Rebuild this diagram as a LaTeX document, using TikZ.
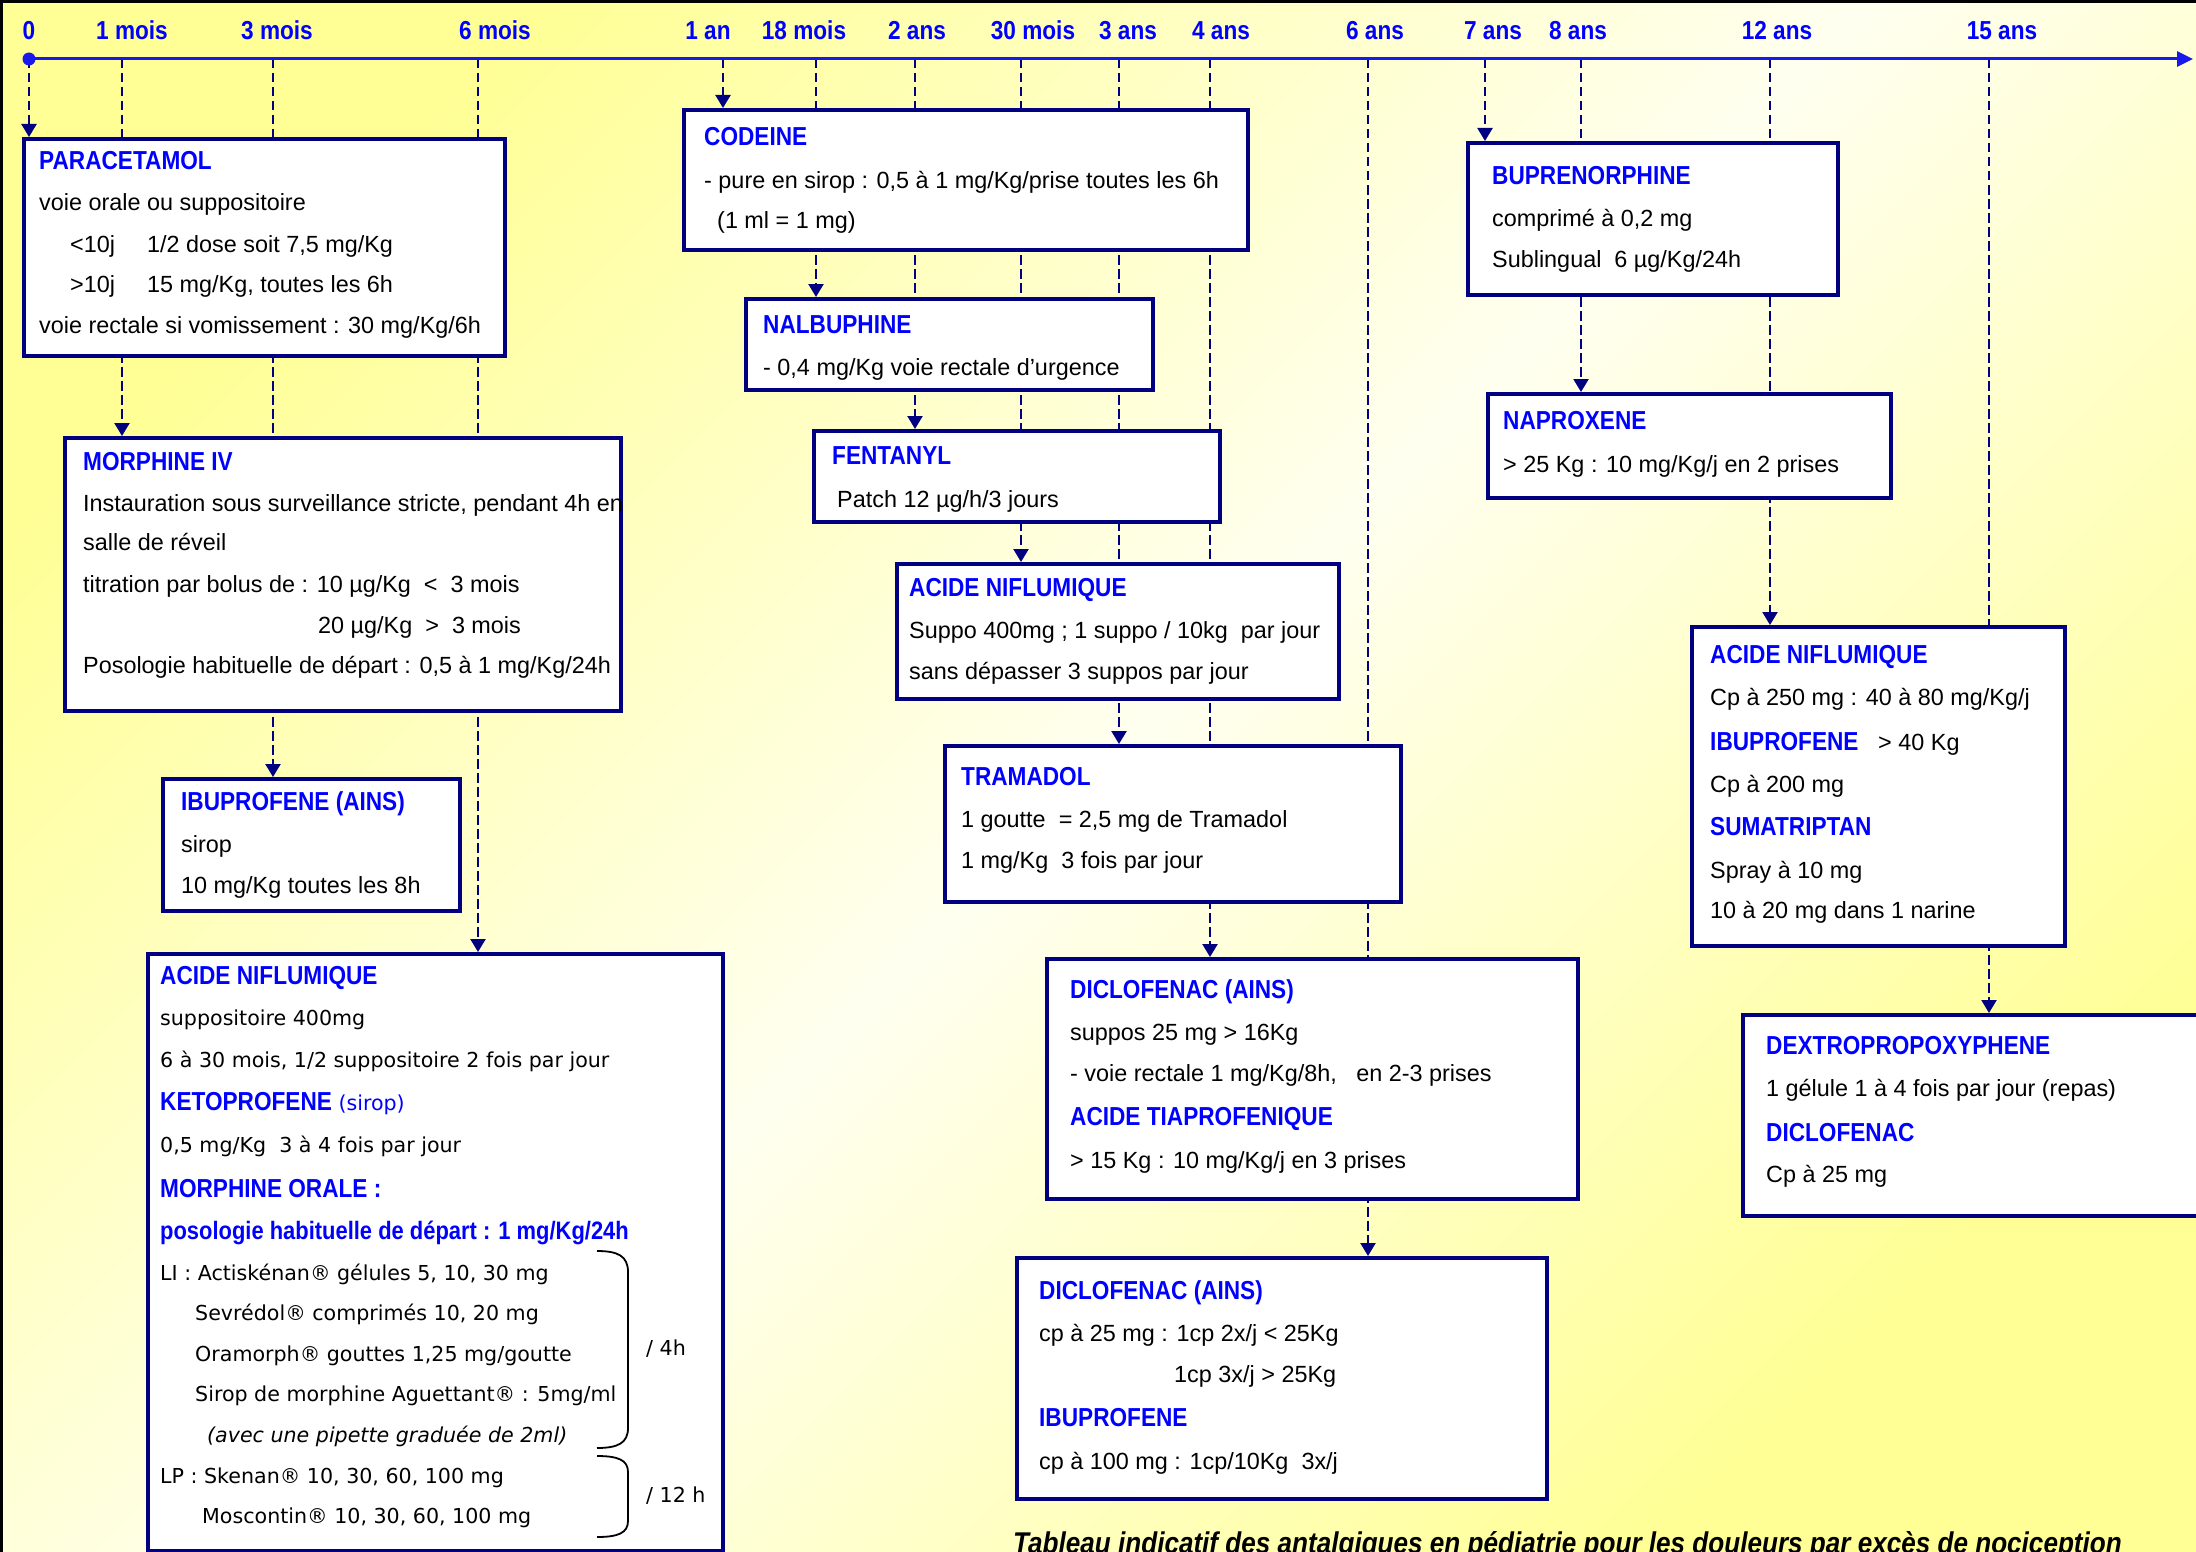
\documentclass[tikz,border=0pt]{standalone}
\usepackage{fontspec}
\setmainfont{Liberation Sans}
\newfontfamily\ttlfont[FakeStretch=0.87]{Liberation Sans}
\newfontfamily\verfont{DejaVu Sans}
\newfontfamily\capfont[FakeStretch=0.87]{Liberation Sans}
\usetikzlibrary{arrows.meta}
\definecolor{navyb}{RGB}{0,0,128}
\definecolor{titleb}{RGB}{0,0,255}
\definecolor{lineb}{RGB}{25,25,235}
\definecolor{bgyel}{RGB}{255,255,150}
\definecolor{bgwh}{RGB}{255,255,240}
\pgfdeclarelayer{back}
\pgfdeclarelayer{conn}
\pgfsetlayers{back,conn,main}
\tikzset{
  box/.style={draw=navyb, line width=4pt, fill=white, inner sep=0pt, anchor=north west},
  ttl/.style={font=\ttlfont\bfseries\fontsize{26}{30}\selectfont, text=titleb, anchor=base west, inner sep=0pt},
  txt/.style={font=\fontsize{23.4}{28}\selectfont, text=black, anchor=base west, inner sep=0pt},
  vtxt/.style={font=\verfont\fontsize{20.6}{25}\selectfont, text=black, anchor=base west, inner sep=0pt},
  ticklab/.style={font=\ttlfont\bfseries\fontsize{26}{30}\selectfont, text=titleb, anchor=base, inner sep=0pt},
  dep/.style={draw=navyb, line width=2.3pt, dash pattern=on 9.5pt off 4.5pt, -{Triangle[length=13pt,width=15pt]}},
  tl/.style={draw=lineb, line width=3pt, -{Triangle[length=16pt,width=15pt]}},
  brc/.style={draw=black, line width=1.8pt},
  capt/.style={font=\capfont\bfseries\itshape\fontsize{30}{34}\selectfont, text=black, anchor=base west, inner sep=0pt}
}
\begin{document}
\begin{tikzpicture}[x=1pt,y=-1pt]
\useasboundingbox (0,0) rectangle (2196,1552);
\begin{pgfonlayer}{back}
  \shade[top color=bgyel, bottom color=bgyel, middle color=bgwh, shading angle=45] (0,0) rectangle (2196,1552);
  \draw[black, line width=3pt] (1.5,1552) -- (1.5,1.5) -- (2196,1.5);
\end{pgfonlayer}

% timeline
\coordinate (t0) at (29,59);
\coordinate (t1) at (122,59);
\coordinate (t3) at (273,59);
\coordinate (t6) at (478,59);
\coordinate (t12) at (723,59);
\coordinate (t18) at (816,59);
\coordinate (t24) at (915,59);
\coordinate (t30) at (1021,59);
\coordinate (t36) at (1119,59);
\coordinate (t48) at (1210,59);
\coordinate (t72) at (1368,59);
\coordinate (t84) at (1485,59);
\coordinate (t96) at (1581,59);
\coordinate (t144) at (1770,59);
\coordinate (t180) at (1989,59);
\coordinate (tend) at (2193,59);
\draw[tl] (t0) -- (tend);
\fill[lineb] (t0) circle (6.5pt);

\node[ticklab] (l0) at (29,40) {0};
\node[ticklab] (l1) at (132,40) {1 mois};
\node[ticklab] (l3) at (277,40) {3 mois};
\node[ticklab] (l6) at (495,40) {6 mois};
\node[ticklab] (l12) at (708,40) {1 an};
\node[ticklab] (l18) at (804,40) {18 mois};
\node[ticklab] (l24) at (917,40) {2 ans};
\node[ticklab] (l30) at (1033,40) {30 mois};
\node[ticklab] (l36) at (1128,40) {3 ans};
\node[ticklab] (l48) at (1221,40) {4 ans};
\node[ticklab] (l72) at (1375,40) {6 ans};
\node[ticklab] (l84) at (1493,40) {7 ans};
\node[ticklab] (l96) at (1578,40) {8 ans};
\node[ticklab] (l144) at (1777,40) {12 ans};
\node[ticklab] (l180) at (2002,40) {15 ans};

% boxes
\node[box, minimum width=481pt, minimum height=217pt] (para) at (22,137) {};
\node[box, minimum width=556pt, minimum height=273pt] (morph) at (63,436) {};
\node[box, minimum width=297pt, minimum height=132pt] (ibu) at (161,777) {};
\node[box, minimum width=575pt, minimum height=597pt] (acnl) at (146,952) {};
\node[box, minimum width=564pt, minimum height=140pt] (cod) at (682,108) {};
\node[box, minimum width=407pt, minimum height=91pt] (nal) at (744,297) {};
\node[box, minimum width=406pt, minimum height=91pt] (fen) at (812,429) {};
\node[box, minimum width=442pt, minimum height=135pt] (acnc) at (895,562) {};
\node[box, minimum width=456pt, minimum height=156pt] (tram) at (943,744) {};
\node[box, minimum width=531pt, minimum height=240pt] (dic1) at (1045,957) {};
\node[box, minimum width=530pt, minimum height=241pt] (dic2) at (1015,1256) {};
\node[box, minimum width=370pt, minimum height=152pt] (bup) at (1466,141) {};
\node[box, minimum width=403pt, minimum height=104pt] (nap) at (1486,392) {};
\node[box, minimum width=373pt, minimum height=319pt] (acnr) at (1690,625) {};
\begin{scope}
  \clip (0,0) rectangle (2196,1552);
  \node[box, minimum width=480pt, minimum height=201pt] (dex) at (1741,1013) {};
  \node[capt] (cap) at (1013,1553) {Tableau indicatif des antalgiques en pédiatrie pour les douleurs par excès de nociception};
\end{scope}

% connectors
\begin{pgfonlayer}{conn}
  \draw[dep] (t0) -- (t0 |- para.north);
  \draw[dep] (t1) -- (t1 |- morph.north);
  \draw[dep] (t3) -- (t3 |- ibu.north);
  \draw[dep] (t6) -- (t6 |- acnl.north);
  \draw[dep] (t12) -- (t12 |- cod.north);
  \draw[dep] (t18) -- (t18 |- nal.north);
  \draw[dep] (t24) -- (t24 |- fen.north);
  \draw[dep] (t30) -- (t30 |- acnc.north);
  \draw[dep] (t36) -- (t36 |- tram.north);
  \draw[dep] (t48) -- (t48 |- dic1.north);
  \draw[dep] (t72) -- (t72 |- dic2.north);
  \draw[dep] (t84) -- (t84 |- bup.north);
  \draw[dep] (t96) -- (t96 |- nap.north);
  \draw[dep] (t144) -- (t144 |- acnr.north);
  \draw[dep] (t180) -- (t180 |- dex.north);
\end{pgfonlayer}

% PARACETAMOL
\node[ttl] (para-h) at (39,169) {PARACETAMOL};
\node[txt] (para-1) at (39,211) {voie orale ou suppositoire};
\node[txt] (para-2) at (70,252) {\makebox[77pt][l]{<10j}1/2 dose soit 7,5 mg/Kg};
\node[txt] (para-3) at (70,292) {\makebox[77pt][l]{>10j}15 mg/Kg, toutes les 6h};
\node[txt] (para-4) at (39,333) {voie rectale si vomissement : 30 mg/Kg/6h};

% MORPHINE IV
\node[ttl] (morph-h) at (83,470) {MORPHINE IV};
\node[txt] (morph-1) at (83,511) {Instauration sous surveillance stricte, pendant 4h en};
\node[txt] (morph-2) at (83,550) {salle de réveil};
\node[txt] (morph-3) at (83,592) {titration par bolus de : 10 µg/Kg\ \ <\ \ 3 mois};
\node[txt] (morph-4) at (318,633) {20 µg/Kg\ \ >\ \ 3 mois};
\node[txt] (morph-5) at (83,673) {Posologie habituelle de départ : 0,5 à 1 mg/Kg/24h};

% IBUPROFENE (AINS)
\node[ttl] (ibu-h) at (181,810) {IBUPROFENE (AINS)};
\node[txt] (ibu-1) at (181,852) {sirop};
\node[txt] (ibu-2) at (181,893) {10 mg/Kg toutes les 8h};

% ACIDE NIFLUMIQUE (left)
\node[ttl] (acnl-h) at (160,984) {ACIDE NIFLUMIQUE};
\node[vtxt] (acnl-1) at (160,1025) {suppositoire 400mg};
\node[vtxt] (acnl-2) at (160,1067) {6 à 30 mois, 1/2 suppositoire 2 fois par jour};
\node[vtxt, text=titleb] (acnl-3) at (160,1110) {{\ttlfont\bfseries\fontsize{26}{30}\selectfont KETOPROFENE} (sirop)};
\node[vtxt] (acnl-4) at (160,1152) {0,5 mg/Kg\ \ 3 à 4 fois par jour};
\node[ttl] (acnl-5) at (160,1197) {MORPHINE ORALE :};
\node[ttl, font=\ttlfont\bfseries\fontsize{25.2}{30}\selectfont] (acnl-6) at (160,1239) {posologie habituelle de départ : 1 mg/Kg/24h};
\node[vtxt] (acnl-7) at (160,1280) {LI : Actiskénan® gélules 5, 10, 30 mg};
\node[vtxt] (acnl-8) at (195,1320) {Sevrédol® comprimés 10, 20 mg};
\node[vtxt] (acnl-9) at (195,1361) {Oramorph® gouttes 1,25 mg/goutte};
\node[vtxt] (acnl-10) at (195,1401) {Sirop de morphine Aguettant® : 5mg/ml};
\node[vtxt, font=\verfont\itshape\fontsize{20.6}{25}\selectfont] (acnl-11) at (207,1442) {(avec une pipette graduée de 2ml)};
\node[vtxt] (acnl-12) at (160,1483) {LP : Skenan® 10, 30, 60, 100 mg};
\node[vtxt] (acnl-13) at (202,1523) {Moscontin® 10, 30, 60, 100 mg};
\draw[brc] (597,1251) .. controls (618,1251) and (628,1256) .. (628,1272) -- (628,1428) .. controls (628,1443) and (618,1448) .. (597,1448);
\draw[brc] (597,1456) .. controls (618,1456) and (628,1460) .. (628,1472) -- (628,1521) .. controls (628,1533) and (618,1537) .. (597,1537);
\node[vtxt] (per4) at (646,1355) {/ 4h};
\node[vtxt] (per12) at (646,1502) {/ 12 h};

% CODEINE
\node[ttl] (cod-h) at (704,146) {CODEINE};
\node[txt] (cod-1) at (704,189) {- pure en sirop : 0,5 à 1 mg/Kg/prise toutes les 6h};
\node[txt] (cod-2) at (717,228) {(1 ml = 1 mg)};

% NALBUPHINE
\node[ttl] (nal-h) at (763,333) {NALBUPHINE};
\node[txt] (nal-1) at (763,375) {- 0,4 mg/Kg voie rectale d’urgence};

% FENTANYL
\node[ttl] (fen-h) at (832,464) {FENTANYL};
\node[txt] (fen-1) at (837,507) {Patch 12 µg/h/3 jours};

% ACIDE NIFLUMIQUE (centre)
\node[ttl] (acnc-h) at (909,596) {ACIDE NIFLUMIQUE};
\node[txt] (acnc-1) at (909,638) {Suppo 400mg ; 1 suppo / 10kg\ \ par jour};
\node[txt] (acnc-2) at (909,679) {sans dépasser 3 suppos par jour};

% TRAMADOL
\node[ttl] (tram-h) at (961,785) {TRAMADOL};
\node[txt] (tram-1) at (961,827) {1 goutte\ \ = 2,5 mg de Tramadol};
\node[txt] (tram-2) at (961,868) {1 mg/Kg\ \ 3 fois par jour};

% DICLOFENAC 1
\node[ttl] (dic1-h) at (1070,998) {DICLOFENAC (AINS)};
\node[txt] (dic1-1) at (1070,1040) {suppos 25 mg > 16Kg};
\node[txt] (dic1-2) at (1070,1081) {- voie rectale 1 mg/Kg/8h,\ \ \ en 2-3 prises};
\node[ttl] (dic1-3) at (1070,1125) {ACIDE TIAPROFENIQUE};
\node[txt] (dic1-4) at (1070,1168) {> 15 Kg : 10 mg/Kg/j en 3 prises};

% DICLOFENAC 2
\node[ttl] (dic2-h) at (1039,1299) {DICLOFENAC (AINS)};
\node[txt] (dic2-1) at (1039,1341) {cp à 25 mg : 1cp 2x/j < 25Kg};
\node[txt] (dic2-2) at (1174,1382) {1cp 3x/j > 25Kg};
\node[ttl] (dic2-3) at (1039,1426) {IBUPROFENE};
\node[txt] (dic2-4) at (1039,1469) {cp à 100 mg : 1cp/10Kg\ \ 3x/j};

% BUPRENORPHINE
\node[ttl] (bup-h) at (1492,184) {BUPRENORPHINE};
\node[txt] (bup-1) at (1492,226) {comprimé à 0,2 mg};
\node[txt] (bup-2) at (1492,267) {Sublingual\ \ 6 µg/Kg/24h};

% NAPROXENE
\node[ttl] (nap-h) at (1503,429) {NAPROXENE};
\node[txt] (nap-1) at (1503,472) {> 25 Kg : 10 mg/Kg/j en 2 prises};

% ACIDE NIFLUMIQUE (right)
\node[ttl] (acnr-h) at (1710,663) {ACIDE NIFLUMIQUE};
\node[txt] (acnr-1) at (1710,705) {Cp à 250 mg : 40 à 80 mg/Kg/j};
\node[ttl] (acnr-2) at (1710,750) {IBUPROFENE};
\node[txt] (acnr-2b) at (1878,750) {> 40 Kg};
\node[txt] (acnr-3) at (1710,792) {Cp à 200 mg};
\node[ttl] (acnr-4) at (1710,835) {SUMATRIPTAN};
\node[txt] (acnr-5) at (1710,878) {Spray à 10 mg};
\node[txt] (acnr-6) at (1710,918) {10 à 20 mg dans 1 narine};

% DEXTROPROPOXYPHENE
\node[ttl] (dex-h) at (1766,1054) {DEXTROPROPOXYPHENE};
\node[txt] (dex-1) at (1766,1096) {1 gélule 1 à 4 fois par jour (repas)};
\node[ttl] (dex-2) at (1766,1141) {DICLOFENAC};
\node[txt] (dex-3) at (1766,1182) {Cp à 25 mg};
\end{tikzpicture}
\end{document}
